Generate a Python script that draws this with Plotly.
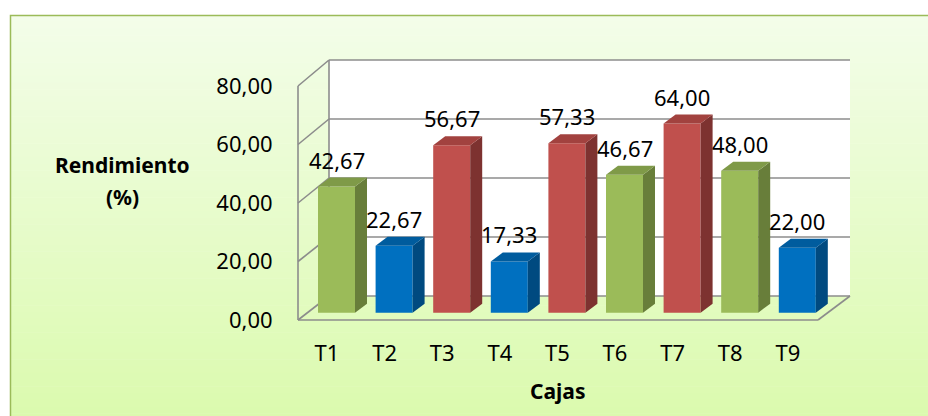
import plotly.graph_objects as go

# ---- data ----
categories = ["T1", "T2", "T3", "T4", "T5", "T6", "T7", "T8", "T9"]
rendimiento = [42.67, 22.67, 56.67, 17.33, 57.33, 46.67, 64.00, 48.00, 22.00]
y_ticks = [0, 20, 40, 60, 80]
y_ticktext = ["0,00", "20,00", "40,00", "60,00", "80,00"]

# ---- styles ----
GREEN = ("#9BBB59", "#7F9A48", "#687E3A")
BLUE = ("#0070C0", "#005C9E", "#004A80")
RED = ("#C0504D", "#A2423F", "#7D3230")
bar_styles = [GREEN, BLUE, RED, BLUE, RED, GREEN, RED, GREEN, BLUE]

W, H = 928, 416
PL, PR, PT, PB = 298, 850, 60, 320          # plot area in pixels
FONT = "Noto Sans"

def px(X):
    return (X - PL) / (PR - PL)

def py(Y):
    return (PB - Y) / (PB - PT)

# bar scale (pixels)
bar_zero = 312.7
kbar = 2.955
step = 57.6
first_center = 336.5
xmin = -(first_center - PL) / step
xmax = xmin + (PR - PL) / step
ymin = -(PB - bar_zero) / kbar
ymax = (bar_zero - PT) / kbar
bw = 37 / step
ddx = 12 / step
ddy = 9 / kbar

# wall geometry (pixels)
FX, BX, RX, FRX = 298, 329, 850, 818
def front_y(v):
    return 320 - v * 2.925
def back_y(v):
    return 296 - v * 2.95

shapes = []
# background gradient panel
n = 60
top_c = (243, 253, 233)
bot_c = (219, 250, 174)
Y0, Y1 = 15, 420
for i in range(n):
    t = i / (n - 1)
    c = tuple(round(top_c[k] + (bot_c[k] - top_c[k]) * t) for k in range(3))
    ya = Y0 + (Y1 - Y0) * i / n
    yb = Y0 + (Y1 - Y0) * (i + 1) / n + 0.5
    shapes.append(dict(type="rect", xref="paper", yref="paper", layer="below",
                       x0=px(10), x1=px(940), y0=py(ya), y1=py(yb),
                       fillcolor="rgb(%d,%d,%d)" % c, line=dict(width=0)))
shapes.append(dict(type="rect", xref="paper", yref="paper", layer="below",
                   x0=px(10.5), x1=px(940), y0=py(15.5), y1=py(430),
                   fillcolor="rgba(0,0,0,0)", line=dict(color="#9BBB59", width=1.5)))
# back wall
shapes.append(dict(type="rect", xref="paper", yref="paper", layer="below",
                   x0=px(BX), x1=px(RX), y0=py(back_y(80)), y1=py(back_y(0)),
                   fillcolor="white", line=dict(width=0)))
GRID = dict(color="#8C8C8C", width=1.6)
def seg(x0, y0, x1, y1):
    shapes.append(dict(type="line", xref="paper", yref="paper", layer="below",
                       x0=px(x0), y0=py(y0), x1=px(x1), y1=py(y1), line=GRID))
for v in y_ticks:
    seg(BX, back_y(v), RX, back_y(v))
    seg(FX, front_y(v), BX, back_y(v))
seg(FX, front_y(0), FX, front_y(80))
seg(BX, back_y(0), BX, back_y(80))
seg(FX, front_y(0), FRX, front_y(0))
seg(FRX, front_y(0), RX, back_y(0))

# 3D side and top faces of bars
for i, v in enumerate(rendimiento):
    front, topc, side = bar_styles[i]
    xl = i - bw / 2
    xr = i + bw / 2
    shapes.append(dict(type="path", xref="x", yref="y", layer="above",
                       path=f"M {xr},0 L {xr+ddx},{ddy} L {xr+ddx},{v+ddy} L {xr},{v} Z",
                       fillcolor=side, line=dict(width=0)))
    shapes.append(dict(type="path", xref="x", yref="y", layer="above",
                       path=f"M {xl},{v} L {xl+ddx},{v+ddy} L {xr+ddx},{v+ddy} L {xr},{v} Z",
                       fillcolor=topc, line=dict(width=0)))

fig = go.Figure()
fig.add_trace(go.Bar(x=list(range(len(categories))), y=rendimiento, width=bw,
                     marker=dict(color=[s[0] for s in bar_styles], line=dict(width=0)),
                     showlegend=False, hoverinfo="skip"))
fig.add_trace(go.Scatter(x=[None], y=[None], yaxis="y2", showlegend=False))

annotations = []
for i, v in enumerate(rendimiento):
    annotations.append(dict(x=i, y=v, xref="x", yref="y", text=f"{v:.2f}".replace(".", ","),
                            showarrow=False, xanchor="center", yanchor="middle", yshift=27,
                            font=dict(family=FONT, size=22, color="black")))
def title(x, y, text):
    annotations.append(dict(x=px(x), y=py(y), xref="paper", yref="paper", text=f"<b>{text}</b>",
                            showarrow=False, xanchor="center", yanchor="middle",
                            font=dict(family=FONT, size=21, color="black")))
title(122, 165, "Rendimiento")
title(122, 197, "(%)")
title(557, 391, "Cajas")

tick_shift = 9.5 / step
fig.update_layout(
    width=W, height=H,
    margin=dict(l=PL, r=W - PR, t=PT, b=H - PB, pad=0),
    paper_bgcolor="white", plot_bgcolor="rgba(0,0,0,0)",
    shapes=shapes, annotations=annotations,
    xaxis=dict(range=[xmin, xmax], showgrid=False, zeroline=False, showline=False,
               tickvals=[i - tick_shift for i in range(len(categories))], ticktext=categories,
               ticks="outside", ticklen=14, tickcolor="rgba(0,0,0,0)",
               tickfont=dict(family=FONT, size=22, color="black"), fixedrange=True),
    yaxis=dict(range=[ymin, ymax], visible=False, fixedrange=True),
    yaxis2=dict(range=[0, (PB - PT) / 2.925], overlaying="y", side="left",
                showgrid=False, zeroline=False, showline=False,
                tickvals=y_ticks, ticktext=y_ticktext,
                ticks="outside", ticklen=20, tickcolor="rgba(0,0,0,0)",
                tickfont=dict(family=FONT, size=22, color="black"), fixedrange=True),
    font=dict(family=FONT, color="black"),
)

fig.write_html("out.html", config={"displayModeBar": False},
               post_script="document.body.style.margin='0';document.body.style.overflow='hidden';")
